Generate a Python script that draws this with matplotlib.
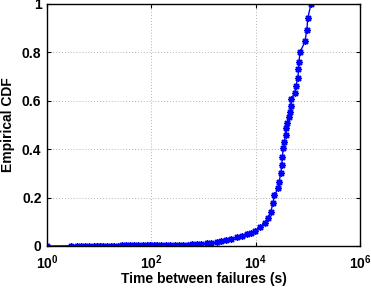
import matplotlib
matplotlib.use('Agg')
import matplotlib.pyplot as plt
from matplotlib.ticker import NullLocator

# time between failures (s) and empirical CDF
ttf = [1, 2.9, 3.7, 4.5, 5.4, 6.5, 7.8, 9.2, 10.5, 12, 14, 17, 19, 23, 27,
       32, 39, 47, 56, 68, 81, 93, 110, 130, 155, 190, 230, 280, 340, 410,
       500, 610, 740, 900, 1150, 1400, 1780, 2200, 2750, 3400, 4400, 5500,
       6800, 8100, 9800, 12000, 15100, 17400, 19500, 21400, 22900, 26900,
       28200, 30200, 31600, 32400, 33900, 35500, 37600, 38000, 40700, 43600,
       45700, 46800, 47900, 56200, 58900, 64600, 66100, 67600, 70800, 88100,
       95500, 100000, 115000]
cdf = [0.0, 0.001, 0.001, 0.001, 0.001, 0.001, 0.002, 0.002, 0.002, 0.002,
       0.002, 0.002, 0.002, 0.002, 0.003, 0.003, 0.003, 0.003, 0.003, 0.003,
       0.003, 0.003, 0.003, 0.003, 0.004, 0.004, 0.004, 0.004, 0.005, 0.005,
       0.006, 0.007, 0.008, 0.009, 0.011, 0.013, 0.015, 0.019, 0.025, 0.030,
       0.036, 0.042, 0.048, 0.055, 0.062, 0.080, 0.094, 0.114, 0.142, 0.176,
       0.211, 0.238, 0.266, 0.300, 0.335, 0.369, 0.404, 0.431, 0.459, 0.486,
       0.510, 0.532, 0.555, 0.578, 0.606, 0.633, 0.662, 0.695, 0.730, 0.762,
       0.800, 0.845, 0.893, 0.943, 1.0]

plt.rcParams['font.family'] = ['Liberation Sans', 'DejaVu Sans']
plt.rcParams['font.weight'] = 'bold'
plt.rcParams['mathtext.fontset'] = 'custom'
plt.rcParams['mathtext.bf'] = 'Liberation Sans:bold'
plt.rcParams['mathtext.rm'] = 'Liberation Sans:bold'
plt.rcParams['mathtext.default'] = 'bf'

fig = plt.figure(figsize=(3.71, 2.89), dpi=100)
ax = fig.add_axes([0.1267, 0.1488, 0.8437, 0.8374])

# matlab style asterisk marker
ax.plot(ttf, cdf, color='blue', marker=(8, 2, 0), markersize=5,
        linewidth=1.0, markeredgewidth=1.0)

ax.set_xscale('log')
ax.set_xlim(1, 1e6)
ax.set_ylim(0, 1)
ax.set_xticks([1, 1e2, 1e4, 1e6])
ax.xaxis.set_minor_locator(NullLocator())
ax.set_yticks([0, 0.2, 0.4, 0.6, 0.8, 1])
ax.set_yticklabels(['0', '0.2', '0.4', '0.6', '0.8', '1'])

ax.grid(True, color='#999999', linestyle=(0, (1, 2.5)), linewidth=0.6)
ax.tick_params(direction='in', length=3, width=0.8, top=True, right=True,
               labelsize=10)
ax.tick_params(axis='x', pad=5)
ax.tick_params(axis='y', pad=4)
for lab in ax.get_xticklabels() + ax.get_yticklabels():
    lab.set_fontweight('bold')
for s in ax.spines.values():
    s.set_linewidth(1.0)

ax.set_xlabel('Time between failures (s)', fontsize=10, fontweight='bold',
              labelpad=0)
ax.set_ylabel('Empirical CDF', fontsize=10, fontweight='bold', labelpad=5)

fig.savefig('out.png', dpi=100)
